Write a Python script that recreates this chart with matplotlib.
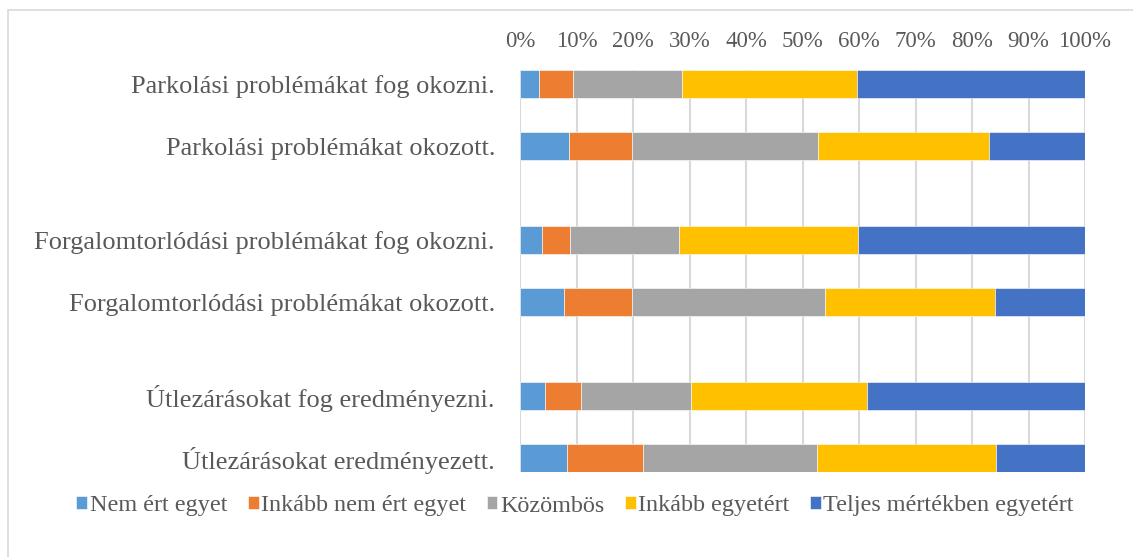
import matplotlib
matplotlib.use("Agg")
import matplotlib.pyplot as plt
from matplotlib.patches import Rectangle
import numpy as np

plt.rcParams['font.family'] = ['Liberation Serif', 'DejaVu Serif']

categories = [
    "Parkolási problémákat fog okozni.",
    "Parkolási problémákat okozott.",
    "Forgalomtorlódási problémákat fog okozni.",
    "Forgalomtorlódási problémákat okozott.",
    "Útlezárásokat fog eredményezni.",
    "Útlezárásokat eredményezett.",
]
series_names = ["Nem ért egyet", "Inkább nem ért egyet", "Közömbös",
                "Inkább egyetért", "Teljes mértékben egyetért"]
nem_ert = [3.3, 8.7, 3.9, 7.8, 4.4, 8.3]
inkabb_nem = [6.1, 11.2, 5.0, 12.1, 6.4, 13.4]
kozombos = [19.3, 32.9, 19.3, 34.0, 19.4, 30.9]
inkabb_igen = [30.9, 30.2, 31.6, 30.2, 31.3, 31.6]
teljes = [40.4, 17.0, 40.2, 15.9, 38.5, 15.8]
colors = ["#5B9BD5", "#ED7D31", "#A5A5A5", "#FFC000", "#4472C4"]
ticks = np.arange(0, 101, 10)

ypos = [0, 1, 2.5, 3.5, 5, 6]
text_col = "#595959"

fig = plt.figure(figsize=(11.33, 5.57), dpi=100)
# chart border (runs off the right and bottom edge)
fig.patches.append(Rectangle((8/1133, -0.1), 2, 1.1 - 10/557, transform=fig.transFigure,
                             fill=False, edgecolor="#d9d9d9", linewidth=1.2))
ax = fig.add_axes([520/1133, 1 - 472/557, 565/1133, 402/557])

left = np.zeros(len(categories))
for vals, name, c in zip([nem_ert, inkabb_nem, kozombos, inkabb_igen, teljes], series_names, colors):
    ax.barh(ypos, vals, left=left, height=0.45, color=c, label=name,
            edgecolor="white", linewidth=0.4, zorder=3)
    left += np.array(vals)

ax.set_xlim(0, 100)
ax.set_ylim(6.225, -0.225)
ax.set_yticks(ypos)
ax.set_yticklabels(categories, fontsize=19, color=text_col)
ax.set_xticks(ticks)
ax.set_xticklabels([f"{t}%" for t in ticks], fontsize=16.5, color=text_col)
ax.xaxis.tick_top()
ax.tick_params(axis='x', length=0, pad=13)
ax.tick_params(axis='y', length=0, pad=18)
ax.grid(axis='x', color="#d9d9d9", linewidth=1.5, zorder=0)
for s in ax.spines.values():
    s.set_visible(False)

leg = fig.legend(loc='center', bbox_to_anchor=(575/1133, 1 - 506/557), ncol=5,
                 frameon=False, fontsize=17.4, handlelength=0.45, handleheight=0.45,
                 handletextpad=0.1, columnspacing=0.85)
for t in leg.get_texts():
    t.set_color(text_col)

fig.savefig("out.png", dpi=100)
